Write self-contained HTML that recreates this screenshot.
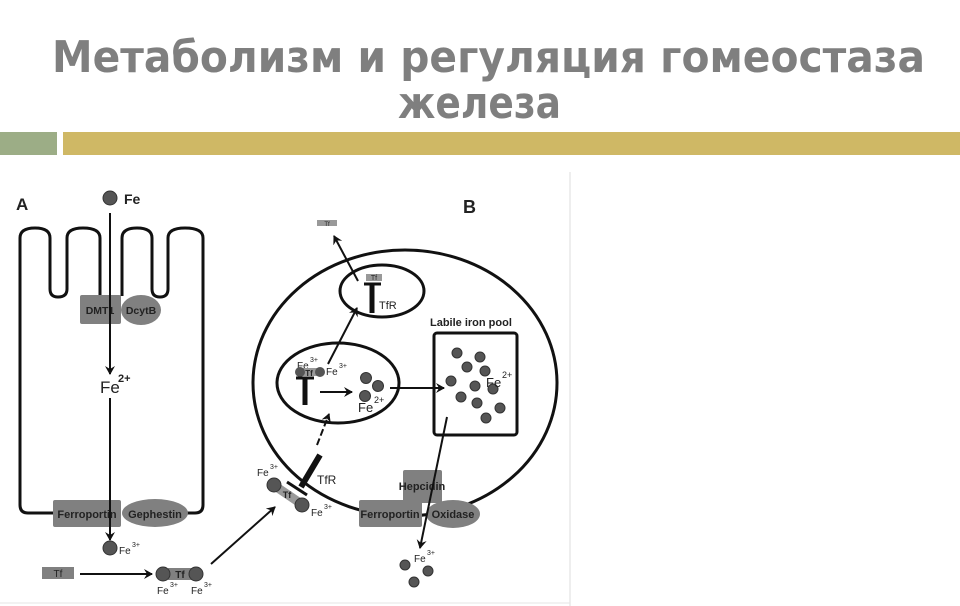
<!DOCTYPE html>
<html><head><meta charset="utf-8"><style>
html,body{margin:0;padding:0;background:#fff;width:960px;height:606px;overflow:hidden}
svg{display:block}
text{font-family:"Liberation Sans",Arial,sans-serif}
</style></head><body>
<svg width="960" height="606" viewBox="0 0 960 606" xmlns="http://www.w3.org/2000/svg">
<defs>
<marker id="ah" markerWidth="10" markerHeight="10" refX="8" refY="5" orient="auto" markerUnits="userSpaceOnUse">
<path d="M0,0 L9,5 L0,10 L3,5 Z" fill="#111"/>
</marker>
</defs>
<!-- Title -->
<g fill="#7f7f7f" font-family="DejaVu Sans,sans-serif" font-weight="bold">
<text x="52" y="72" font-size="44" textLength="873" lengthAdjust="spacingAndGlyphs" style="font-family:'DejaVu Sans',sans-serif">Метаболизм и регуляция гомеостаза</text>
<text x="398" y="118" font-size="44" textLength="163" lengthAdjust="spacingAndGlyphs" style="font-family:'DejaVu Sans',sans-serif">железа</text>
</g>
<rect x="0" y="132" width="57" height="23" fill="#9cad86"/>
<rect x="63" y="132" width="897" height="23" fill="#cfb865"/>
<line x1="570" y1="172" x2="570" y2="606" stroke="#ddd" stroke-width="1"/>
<line x1="0" y1="603" x2="570" y2="603" stroke="#e6e6e6" stroke-width="1"/>

<g stroke="#111" fill="none" stroke-width="3">
<!-- Cell A outline -->
<path d="M53,513 L28,513 Q20,513 20,505 L20,238 Q20,228 35,228 Q50,228 50,238 L50,289 Q50,297 58,297 Q67,297 67,289 L67,238 Q67,228 83,228 Q100,228 100,238 L100,296"/>
<path d="M122,296 L122,238 Q122,228 137,228 Q152,228 152,238 L152,289 Q152,297 160,297 Q168,297 168,289 L168,238 Q168,228 185,228 Q203,228 203,238 L203,505 Q203,513 195,513 L186,513"/>
<!-- B ellipses -->
<ellipse cx="405" cy="383" rx="152" ry="133"/>
<ellipse cx="382" cy="291" rx="42" ry="26"/>
<ellipse cx="338" cy="383" rx="61" ry="40"/>
<rect x="434" y="333" width="83" height="102" rx="3"/>
</g>

<!-- A components -->
<circle cx="110" cy="198" r="7" fill="#555" stroke="#333"/>
<text x="124" y="204" font-size="14" font-weight="bold" fill="#222">Fe</text>
<text x="16" y="210" font-size="17" font-weight="bold" fill="#222">A</text>
<rect x="80" y="295" width="41" height="29" rx="2" fill="#808080"/>
<ellipse cx="141" cy="310" rx="20" ry="15" fill="#808080"/>
<text x="100" y="314" font-size="10.5" font-weight="bold" fill="#222" text-anchor="middle">DMT1</text>
<text x="141" y="314" font-size="10.5" font-weight="bold" fill="#222" text-anchor="middle">DcytB</text>
<line x1="110" y1="213" x2="110" y2="374" stroke="#111" stroke-width="2" marker-end="url(#ah)"/>
<text x="100" y="393" font-size="17" fill="#222">Fe</text><text x="118" y="382" font-size="11" font-weight="bold" fill="#222">2+</text>
<line x1="110" y1="398" x2="110" y2="540" stroke="#111" stroke-width="2" marker-end="url(#ah)"/>
<rect x="53" y="500" width="68" height="27" rx="2" fill="#808080"/>
<ellipse cx="155" cy="513" rx="33" ry="14" fill="#808080"/>
<line x1="110" y1="498" x2="110" y2="540" stroke="#111" stroke-width="2"/>
<text x="87" y="518" font-size="11" font-weight="bold" fill="#222" text-anchor="middle">Ferroportin</text>
<text x="155" y="518" font-size="11" font-weight="bold" fill="#222" text-anchor="middle">Gephestin</text>
<circle cx="110" cy="548" r="7" fill="#555" stroke="#333"/>
<text x="119" y="554" font-size="10" fill="#222">Fe</text><text x="132" y="547" font-size="7" fill="#222">3+</text>
<rect x="42" y="567" width="32" height="12" fill="#808080"/>
<text x="58" y="577" font-size="10" fill="#222" text-anchor="middle">Tf</text>
<line x1="80" y1="574" x2="152" y2="574" stroke="#111" stroke-width="2" marker-end="url(#ah)"/>
<rect x="168" y="568" width="24" height="12" fill="#808080"/>
<text x="180" y="578" font-size="10" font-weight="bold" fill="#222" text-anchor="middle">Tf</text>
<circle cx="163" cy="574" r="7" fill="#555" stroke="#333"/>
<circle cx="196" cy="574" r="7" fill="#555" stroke="#333"/>
<text x="157" y="594" font-size="10" fill="#222">Fe</text><text x="170" y="587" font-size="7" fill="#222">3+</text>
<text x="191" y="594" font-size="10" fill="#222">Fe</text><text x="204" y="587" font-size="7" fill="#222">3+</text>
<line x1="211" y1="564" x2="275" y2="507" stroke="#111" stroke-width="2" marker-end="url(#ah)"/>

<!-- B components -->
<text x="463" y="213" font-size="18" font-weight="bold" fill="#222">B</text>
<rect x="317" y="220" width="20" height="6" fill="#999"/>
<text x="327" y="226" font-size="6" fill="#222" text-anchor="middle">Tf</text>
<line x1="358" y1="281" x2="334" y2="236" stroke="#111" stroke-width="2" marker-end="url(#ah)"/>
<rect x="366" y="274" width="16" height="7" fill="#999"/>
<text x="374" y="280" font-size="7" fill="#222" text-anchor="middle">Tf</text>
<line x1="364" y1="284" x2="381" y2="284" stroke="#111" stroke-width="3"/>
<line x1="372" y1="284" x2="372" y2="313" stroke="#111" stroke-width="5"/>
<text x="379" y="309" font-size="11" fill="#222">TfR</text>
<line x1="328" y1="364" x2="357" y2="308" stroke="#111" stroke-width="2" marker-end="url(#ah)"/>
<text x="297" y="369" font-size="10" fill="#222">Fe</text><text x="310" y="362" font-size="7" fill="#222">3+</text>
<rect x="300" y="368" width="20" height="8" fill="#999"/>
<circle cx="300" cy="372" r="5" fill="#555"/>
<circle cx="320" cy="372" r="5" fill="#555"/>
<text x="309" y="376" font-size="8" font-weight="bold" fill="#222" text-anchor="middle">Tf</text>
<text x="326" y="375" font-size="10" fill="#222">Fe</text><text x="339" y="368" font-size="7" fill="#222">3+</text>
<line x1="296" y1="378" x2="314" y2="378" stroke="#111" stroke-width="3"/>
<line x1="305" y1="378" x2="305" y2="405" stroke="#111" stroke-width="5"/>
<line x1="320" y1="392" x2="352" y2="392" stroke="#111" stroke-width="2" marker-end="url(#ah)"/>
<g fill="#555" stroke="#333">
<circle cx="366" cy="378" r="5.5"/><circle cx="378" cy="386" r="5.5"/><circle cx="365" cy="396" r="5.5"/>
</g>
<text x="358" y="412" font-size="13" fill="#222">Fe</text><text x="374" y="403" font-size="9" fill="#222">2+</text>
<line x1="390" y1="388" x2="444" y2="388" stroke="#111" stroke-width="2" marker-end="url(#ah)"/>
<text x="430" y="326" font-size="11" font-weight="bold" fill="#222">Labile iron pool</text>
<g fill="#555" stroke="#333">
<circle cx="457" cy="353" r="5"/><circle cx="480" cy="357" r="5"/><circle cx="467" cy="367" r="5"/><circle cx="485" cy="371" r="5"/><circle cx="451" cy="381" r="5"/><circle cx="475" cy="386" r="5"/><circle cx="493" cy="389" r="5"/><circle cx="461" cy="397" r="5"/><circle cx="477" cy="403" r="5"/><circle cx="500" cy="408" r="5"/><circle cx="486" cy="418" r="5"/>
</g>
<text x="486" y="387" font-size="13" fill="#222">Fe</text><text x="502" y="378" font-size="9" fill="#222">2+</text>
<rect x="403" y="470" width="39" height="33" rx="2" fill="#808080"/>
<rect x="359" y="500" width="63" height="27" rx="2" fill="#808080"/>
<ellipse cx="453" cy="514" rx="27" ry="14" fill="#808080"/>
<text x="422" y="490" font-size="11" font-weight="bold" fill="#222" text-anchor="middle">Hepcidin</text>
<text x="390" y="518" font-size="11" font-weight="bold" fill="#222" text-anchor="middle">Ferroportin</text>
<text x="453" y="518" font-size="11" font-weight="bold" fill="#222" text-anchor="middle">Oxidase</text>
<line x1="447" y1="417" x2="420" y2="548" stroke="#111" stroke-width="2" marker-end="url(#ah)"/>
<g fill="#555" stroke="#333">
<circle cx="405" cy="565" r="5"/><circle cx="428" cy="571" r="5"/><circle cx="414" cy="582" r="5"/>
</g>
<text x="414" y="562" font-size="10" fill="#222">Fe</text><text x="427" y="555" font-size="7" fill="#222">3+</text>
<!-- TfR at membrane -->
<line x1="317" y1="445" x2="329" y2="414" stroke="#111" stroke-width="2" stroke-dasharray="7,3" marker-end="url(#ah)"/>
<line x1="320" y1="455" x2="301" y2="487" stroke="#111" stroke-width="6"/>
<line x1="287" y1="482" x2="307" y2="495" stroke="#111" stroke-width="3"/>
<text x="317" y="484" font-size="12" fill="#222">TfR</text>
<line x1="275" y1="486" x2="300" y2="503" stroke="#999" stroke-width="9"/>
<circle cx="274" cy="485" r="7" fill="#555" stroke="#333"/>
<circle cx="302" cy="505" r="7" fill="#555" stroke="#333"/>
<text x="287" y="498" font-size="9" font-weight="bold" fill="#222" text-anchor="middle">Tf</text>
<text x="257" y="476" font-size="10" fill="#222">Fe</text><text x="270" y="469" font-size="7" fill="#222">3+</text>
<text x="311" y="516" font-size="10" fill="#222">Fe</text><text x="324" y="509" font-size="7" fill="#222">3+</text>
</svg>
</body></html>
